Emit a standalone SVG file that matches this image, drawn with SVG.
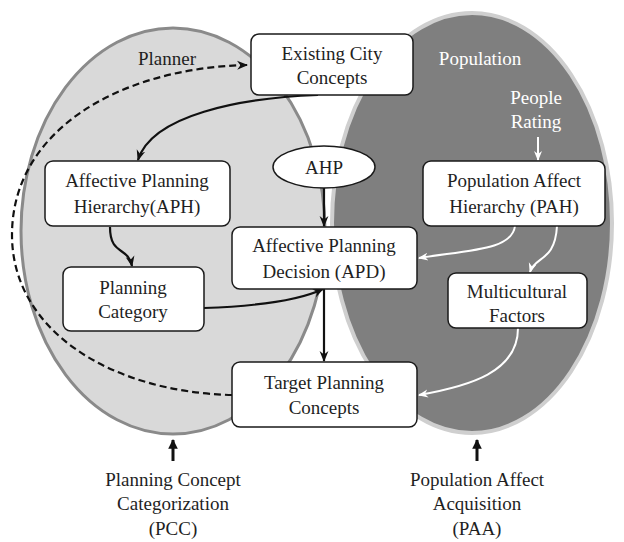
<svg xmlns="http://www.w3.org/2000/svg" width="624" height="542" viewBox="0 0 624 542">
  <defs>
    <style>
      .box { fill: #ffffff; stroke: #1a1a1a; stroke-width: 1.5; }
      text { font-family: "Liberation Serif", "Times New Roman", Times, Tinos, "Noto Serif", "DejaVu Serif", FreeSerif, serif; font-size: 19px; text-anchor: middle; }
      .t { fill: #1f1f1f; }
      .tw { fill: #ffffff; }
      .blk { fill: none; stroke: #111111; stroke-width: 2.2; }
      .wht { fill: none; stroke: #ffffff; stroke-width: 2; }
    </style>
    <marker id="ahB" viewBox="0 0 10 10" refX="9" refY="5" markerWidth="5" markerHeight="5" orient="auto">
      <path d="M0,1 L10,5 L0,9 L3,5 Z" fill="#111111"/>
    </marker>
    <marker id="ahW" viewBox="0 0 10 10" refX="9" refY="5" markerWidth="5" markerHeight="5" orient="auto">
      <path d="M0,1 L10,5 L0,9 L3,5 Z" fill="#ffffff"/>
    </marker>
    <marker id="ahBig" viewBox="0 0 10 10" refX="9" refY="5" markerWidth="3.2" markerHeight="3.2" orient="auto">
      <path d="M0,0 L10,5 L0,10 Z" fill="#111111"/>
    </marker>
  </defs>

  <!-- the two domains -->
  <g id="planner-domain">
    <ellipse cx="173" cy="231" rx="152" ry="203" fill="#d9d9d9" stroke="#8a8a8a" stroke-width="3"/>
    <text class="t" x="167" y="65">Planner</text>
  </g>
  <g id="population-domain">
    <ellipse cx="472" cy="223" rx="140" ry="210" fill="#7f7f7f" stroke="#cfcfcf" stroke-width="4"/>
    <text class="tw" x="480" y="65">Population</text>
    <text class="tw" x="536" y="104">People</text>
    <text class="tw" x="536" y="128">Rating</text>
  </g>

  <!-- connectors -->
  <g id="connectors">
    <path class="blk" d="M232,395 C110,392 12,330 12,235 C12,130 120,68 247,65" stroke-dasharray="7,4" marker-end="url(#ahB)"/>
    <path class="blk" d="M318,95 C240,98 152,115 138,160" marker-end="url(#ahB)"/>
    <path class="blk" d="M110,227 C110,256 128,246 132,266" marker-end="url(#ahB)"/>
    <path class="blk" d="M204,308 C262,306 300,300 323,289" marker-end="url(#ahB)"/>
    <path class="blk" d="M324,188 L324,226" stroke-width="4" marker-end="url(#ahB)"/>
    <path class="blk" d="M324,289 L324,361" marker-end="url(#ahB)"/>
    <path class="wht" d="M515,226 C512,250 470,250 419,258" marker-end="url(#ahW)"/>
    <path class="wht" d="M557,226 C555,262 535,256 530,272" marker-end="url(#ahW)"/>
    <path class="wht" d="M518,328 C518,372 470,386 419,395" marker-end="url(#ahW)"/>
    <path class="wht" d="M538,137 L538,160" stroke-width="2.5" marker-end="url(#ahW)"/>
    <path d="M173,461 L173,440" stroke="#111111" stroke-width="3" fill="none" marker-end="url(#ahBig)"/>
    <path d="M477,461 L477,440" stroke="#111111" stroke-width="3" fill="none" marker-end="url(#ahBig)"/>
  </g>

  <!-- nodes -->
  <g id="existing-city-concepts">
    <rect class="box" x="251" y="34" width="162" height="61" rx="8"/>
    <text class="t" x="332" y="60">Existing City</text>
    <text class="t" x="332" y="84">Concepts</text>
  </g>
  <g id="ahp">
    <ellipse class="box" cx="324" cy="167" rx="51" ry="21"/>
    <text class="t" x="324" y="174">AHP</text>
  </g>
  <g id="aph">
    <rect class="box" x="45" y="161" width="185" height="65" rx="8"/>
    <text class="t" x="137" y="187">Affective Planning</text>
    <text class="t" x="137" y="213">Hierarchy(APH)</text>
  </g>
  <g id="apd">
    <rect class="box" x="232" y="227" width="185" height="62" rx="8"/>
    <text class="t" x="324" y="252">Affective Planning</text>
    <text class="t" x="324" y="278">Decision (APD)</text>
  </g>
  <g id="planning-category">
    <rect class="box" x="63" y="267" width="141" height="64" rx="8"/>
    <text class="t" x="133" y="294">Planning</text>
    <text class="t" x="133" y="318">Category</text>
  </g>
  <g id="target-planning-concepts">
    <rect class="box" x="232" y="362" width="185" height="65" rx="8"/>
    <text class="t" x="324" y="389">Target Planning</text>
    <text class="t" x="324" y="414">Concepts</text>
  </g>
  <g id="pah">
    <rect class="box" x="423" y="161" width="182" height="65" rx="8"/>
    <text class="t" x="514" y="187">Population Affect</text>
    <text class="t" x="514" y="213">Hierarchy (PAH)</text>
  </g>
  <g id="multicultural-factors">
    <rect class="box" x="448" y="273" width="139" height="55" rx="8"/>
    <text class="t" x="517" y="298">Multicultural</text>
    <text class="t" x="517" y="322">Factors</text>
  </g>

  <!-- stage captions -->
  <g id="pcc">
    <text class="t" x="173" y="486">Planning Concept</text>
    <text class="t" x="173" y="510">Categorization</text>
    <text class="t" x="173" y="535">(PCC)</text>
  </g>
  <g id="paa">
    <text class="t" x="477" y="486">Population Affect</text>
    <text class="t" x="477" y="510">Acquisition</text>
    <text class="t" x="477" y="535">(PAA)</text>
  </g>
</svg>
